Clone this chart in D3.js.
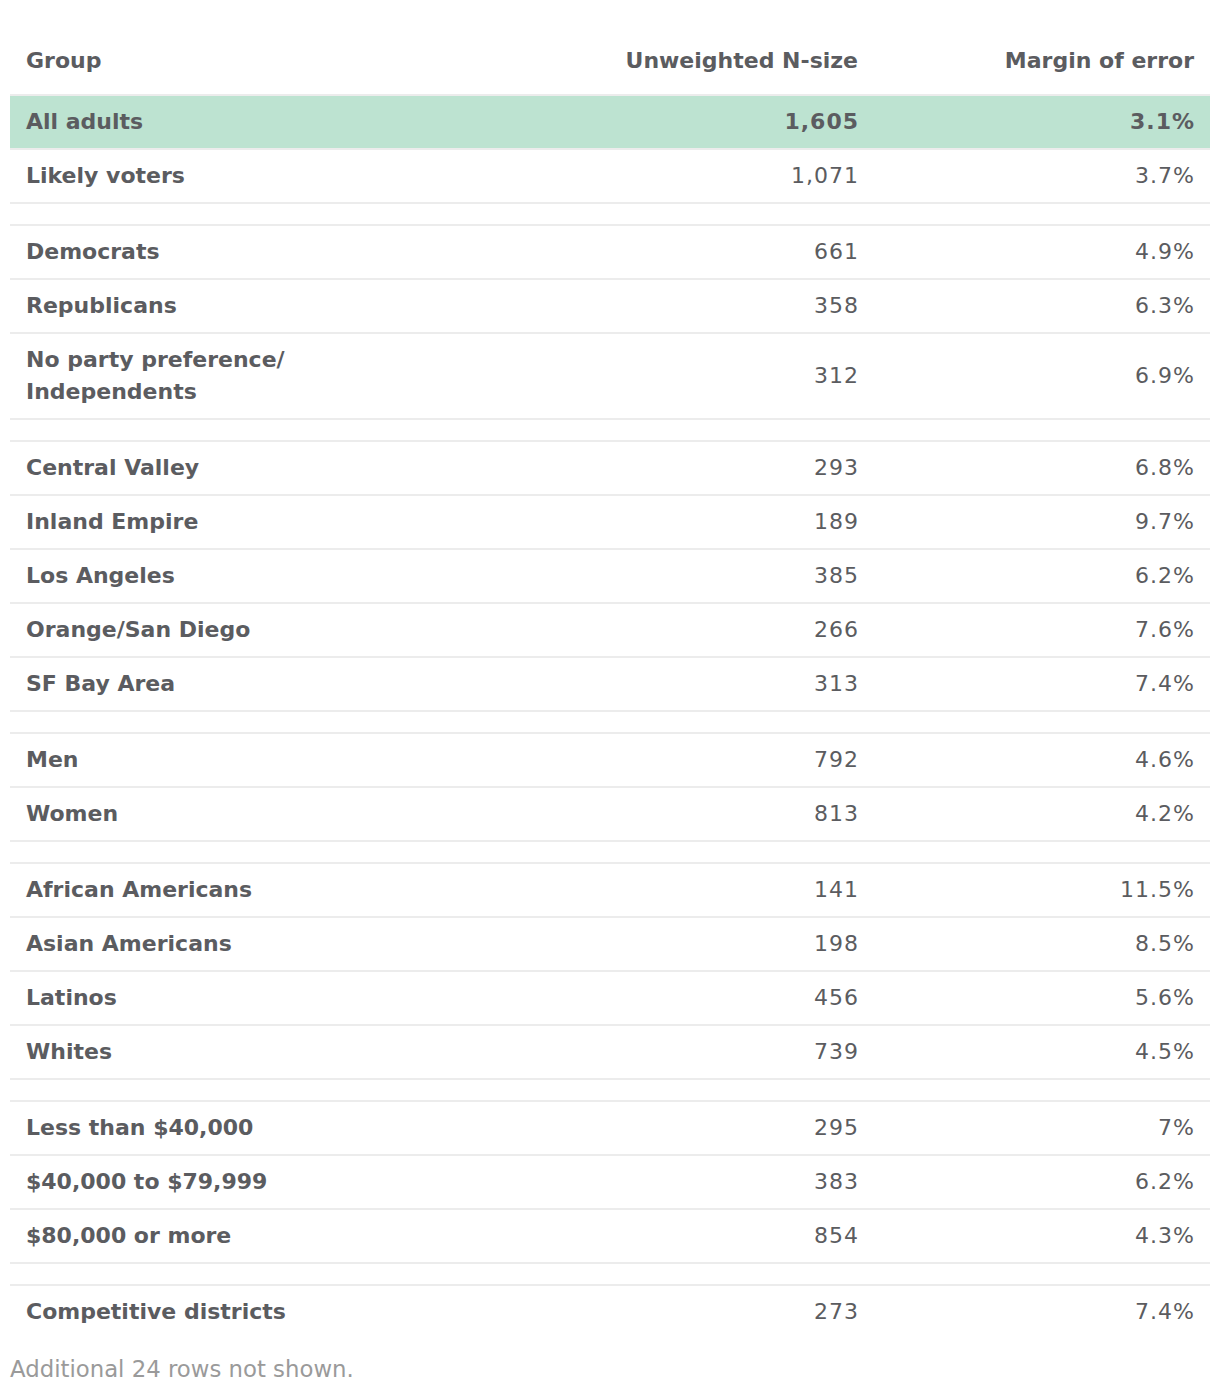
<!DOCTYPE html>
<html>
<head>
<meta charset="utf-8">
<script src="https://cdn.jsdelivr.net/npm/d3@7"></script>
<style>
  html, body { margin: 0; padding: 0; background: #fff; }
  svg text { font-family: "DejaVu Sans", "Open Sans", sans-serif; }
</style>
</head>
<body>
<svg id="chart" width="1220" height="1394"></svg>
<script>
// ---- data ----
const headers = ["Group", "Unweighted N-size", "Margin of error"];
const groups = [
  "All adults", "Likely voters",
  "Democrats", "Republicans", "No party preference/\nIndependents",
  "Central Valley", "Inland Empire", "Los Angeles", "Orange/San Diego", "SF Bay Area",
  "Men", "Women",
  "African Americans", "Asian Americans", "Latinos", "Whites",
  "Less than $40,000", "$40,000 to $79,999", "$80,000 or more",
  "Competitive districts"
];
const nSize = [1605, 1071, 661, 358, 312, 293, 189, 385, 266, 313, 792, 813, 141, 198, 456, 739, 295, 383, 854, 273];
const marginOfError = ["3.1%", "3.7%", "4.9%", "6.3%", "6.9%", "6.8%", "9.7%", "6.2%", "7.6%", "7.4%", "4.6%", "4.2%", "11.5%", "8.5%", "5.6%", "4.5%", "7%", "6.2%", "4.3%", "7.4%"];
const sectionStarts = [2, 5, 10, 12, 16, 19]; // a spacer row goes before these
const highlightRows = [0];
const footnote = "Additional 24 rows not shown.";

// ---- layout ----
const svg = d3.select("#chart");
const left = 10, right = 1210;
const rowH = 54, lineH = 32, spacerH = 22, headerBottom = 95;
const textColor = "#5b5c60", lineColor = "#ececec";
const fs = 22, numFs = 22, numLS = 1;

const x = d3.scaleOrdinal().domain(headers).range([26, 858, 1194]);

let y = headerBottom;
const rows = [];
groups.forEach((g, i) => {
  if (sectionStarts.includes(i)) {
    rows.push({spacer: true, y0: y, h: spacerH});
    y += spacerH;
  }
  const lines = g.split("\n");
  const h = rowH + (lines.length - 1) * lineH;
  rows.push({spacer: false, i, lines, y0: y, h, n: nSize[i], moe: marginOfError[i]});
  y += h;
});

svg.selectAll("text.hdr").data(headers).join("text")
  .attr("class", "hdr")
  .attr("x", d => x(d))
  .attr("y", 61)
  .attr("dy", "0.34em")
  .attr("text-anchor", (d, i) => i === 0 ? "start" : "end")
  .attr("font-size", fs)
  .attr("font-weight", 700)
  .attr("fill", textColor)
  .text(d => d);

svg.selectAll("rect.hl").data(rows.filter(r => !r.spacer && highlightRows.includes(r.i))).join("rect")
  .attr("class", "hl")
  .attr("x", left).attr("width", right - left)
  .attr("y", d => d.y0).attr("height", d => d.h)
  .attr("fill", "#bde3d1");

const lineYs = [headerBottom].concat(rows.slice(0, -1).map(r => r.y0 + r.h));
svg.selectAll("line.sep").data(lineYs).join("line")
  .attr("class", "sep")
  .attr("x1", left).attr("x2", right)
  .attr("y1", d => d).attr("y2", d => d)
  .attr("stroke", lineColor).attr("stroke-width", 2);

const dataRows = rows.filter(r => !r.spacer);

const gl = svg.selectAll("text.grp").data(dataRows).join("text")
  .attr("class", "grp")
  .attr("x", x(headers[0]))
  .attr("font-size", fs)
  .attr("font-weight", 700)
  .attr("fill", textColor);
gl.selectAll("tspan").data(d => d.lines.map((t, k) => ({t, k, d}))).join("tspan")
  .attr("x", x(headers[0]))
  .attr("y", o => o.d.y0 + o.d.h / 2 + (o.k - (o.d.lines.length - 1) / 2) * lineH)
  .attr("dy", "0.34em")
  .text(o => o.t);

const fmt = d3.format(",");
const numCols = [
  {cls: "n", col: headers[1], val: d => fmt(d.n)},
  {cls: "m", col: headers[2], val: d => d.moe}
];
numCols.forEach(c => {
  svg.selectAll("text." + c.cls).data(dataRows).join("text")
    .attr("class", c.cls)
    .attr("x", x(c.col) + numLS)
    .attr("y", d => d.y0 + d.h / 2)
    .attr("dy", "0.34em")
    .attr("text-anchor", "end")
    .attr("font-size", numFs)
    .attr("letter-spacing", numLS)
    .attr("font-weight", d => highlightRows.includes(d.i) ? 700 : 400)
    .attr("fill", textColor)
    .text(c.val);
});

svg.append("text")
  .attr("x", left)
  .attr("y", 1369)
  .attr("dy", "0.34em")
  .attr("font-size", 22.8)
  .attr("fill", "#9a9a9a")
  .text(footnote);
</script>
</body>
</html>
